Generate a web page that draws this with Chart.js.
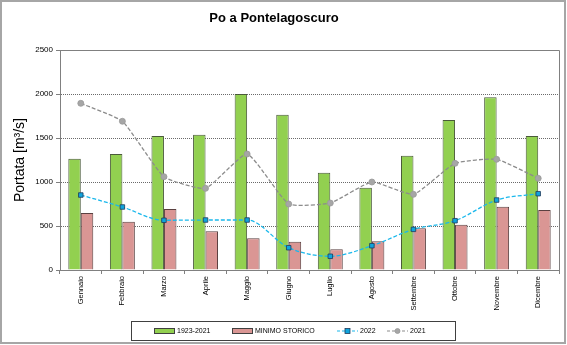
<!DOCTYPE html>
<html><head><meta charset="utf-8">
<script src="https://cdn.jsdelivr.net/npm/chart.js@4.4.0/dist/chart.umd.min.js"></script>
<style>html,body{margin:0;padding:0;background:#fff}#wrap{width:567px;height:345px;position:relative}</style>
</head><body><div id="wrap"><canvas id="c" width="567" height="345"></canvas></div>
<script>
const months = ['Gennaio','Febbraio','Marzo','Aprile','Maggio','Giugno','Luglio','Agosto','Settembre','Ottobre','Novembre','Dicembre'];
const media = [1265,1318,1523,1538,2000,1765,1106,935,1299,1705,1962,1523];
const minimo = [648,549,693,440,360,322,235,326,474,515,720,682];
const y2022 = [852,716,565,568,568,253,156,276,462,560,795,867];
const y2021 = [1894,1690,1060,928,1318,750,761,1000,860,1212,1258,1042];
const seriesNames = ['1923-2021','MINIMO STORICO','2022','2021'];
const chartTitle = 'Po a Pontelagoscuro';
const yTitle = 'Portata [m³/s]';
const yMin = 0, yMax = 2500, yStep = 500;

const FONT = "'Liberation Sans', Arial, sans-serif";

const framePlugin = {
  id: 'frame',
  beforeDatasetsDraw(chart) {
    const {ctx, chartArea: a} = chart;
    ctx.save();
    ctx.strokeStyle = '#808080';
    ctx.lineWidth = 1;
    ctx.beginPath();
    ctx.moveTo(a.left, Math.round(a.top) + 0.5);
    ctx.lineTo(Math.round(a.right) + 0.5, Math.round(a.top) + 0.5);
    ctx.lineTo(Math.round(a.right) + 0.5, a.bottom);
    ctx.stroke();
    ctx.restore();
  },
  afterDraw(chart) {
    const {ctx} = chart;
    ctx.save();
    ctx.strokeStyle = '#a6a6a6';
    ctx.lineWidth = 2;
    ctx.strokeRect(1, 1, 564, 342);
    ctx.fillStyle = '#000';
    ctx.font = 'bold 13px ' + FONT;
    ctx.textAlign = 'center';
    ctx.textBaseline = 'middle';
    ctx.fillText(chartTitle, 274, 18);
    const bx = 131, by = 321, bw = 324, bh = 19;
    ctx.lineWidth = 1;
    ctx.strokeStyle = '#404040';
    ctx.strokeRect(bx + 0.5, by + 0.5, bw, bh);
    const cy = by + bh / 2 + 0.5;
    const offs = [23, 101, 206, 256];
    ctx.font = '7px ' + FONT;
    ctx.textAlign = 'left';
    ctx.textBaseline = 'middle';
    chart.data.datasets.forEach((ds, i) => {
      const x = bx + offs[i];
      if (ds.type === 'bar') {
        ctx.fillStyle = ds.backgroundColor;
        ctx.fillRect(x, cy - 3, 20, 5);
        ctx.strokeStyle = '#404040';
        ctx.lineWidth = 1;
        ctx.strokeRect(x + 0.5, cy - 2.5, 20, 5);
        ctx.fillStyle = '#000';
        ctx.fillText(ds.label, x + 23, cy);
      } else {
        ctx.strokeStyle = ds.borderColor;
        ctx.lineWidth = 1.2;
        ctx.setLineDash([3, 2]);
        ctx.beginPath();
        ctx.moveTo(x, cy); ctx.lineTo(x + 21, cy);
        ctx.stroke();
        ctx.setLineDash([]);
        ctx.fillStyle = ds.pointBackgroundColor;
        ctx.strokeStyle = ds.pointBorderColor;
        ctx.lineWidth = 0.8;
        if (ds.pointStyle === 'rect') {
          ctx.fillRect(x + 8, cy - 2.5, 5, 5);
          ctx.strokeRect(x + 8, cy - 2.5, 5, 5);
        } else {
          ctx.beginPath(); ctx.arc(x + 10.5, cy, 2.5, 0, Math.PI * 2); ctx.fill(); ctx.stroke();
        }
        ctx.fillStyle = '#000';
        ctx.fillText(ds.label, x + 23, cy);
      }
    });
    ctx.restore();
  }
};

new Chart(document.getElementById('c'), {
  data: {
    labels: months,
    datasets: [
      { type: 'bar', label: seriesNames[0], data: media, backgroundColor: '#92D050', borderColor: '#4a5a3a', borderWidth: 1, order: 2 },
      { type: 'bar', label: seriesNames[1], data: minimo, backgroundColor: '#DA9694', borderColor: '#5a4040', borderWidth: 1, order: 2 },
      { type: 'line', label: seriesNames[2], data: y2022, borderColor: '#1AB8EC', borderWidth: 1.3, borderDash: [4, 2],
        pointStyle: 'rect', pointRadius: 3.2, pointBackgroundColor: '#0FA4DD', pointBorderColor: '#1F3A5A', pointBorderWidth: 0.8,
        cubicInterpolationMode: 'monotone', fill: false, order: 1 },
      { type: 'line', label: seriesNames[3], data: y2021, borderColor: '#8C8C8C', borderWidth: 1.3, borderDash: [4, 2],
        pointStyle: 'circle', pointRadius: 3, pointBackgroundColor: '#A6A6A6', pointBorderColor: '#999999', pointBorderWidth: 0.8,
        tension: 0.15, fill: false, order: 1 }
    ]
  },
  options: {
    responsive: false,
    animation: false,
    devicePixelRatio: 1,
    layout: { padding: { left: 0, right: 8, top: 50, bottom: 30 } },
    plugins: { legend: { display: false }, title: { display: false }, tooltip: { enabled: false } },
    datasets: { bar: { categoryPercentage: 0.6, barPercentage: 1 } },
    scales: {
      x: {
        grid: { offset: true, drawOnChartArea: false, tickLength: 4, tickColor: '#808080' },
        border: { color: '#808080', width: 1 },
        ticks: { minRotation: 90, maxRotation: 90, color: '#000', font: { family: FONT, size: 7.5 }, padding: 2, autoSkip: false },
        afterFit(s) { s.height = 45; }
      },
      y: {
        min: yMin, max: yMax,
        ticks: { stepSize: yStep, color: '#000', font: { family: FONT, size: 8 }, padding: 3, callback: v => String(v) },
        grid: {
          color: c => (c.tick && (c.tick.value === yMin || c.tick.value === yMax)) ? 'rgba(0,0,0,0)' : '#6a6a6a',
          lineWidth: 1, tickLength: 4, tickColor: '#808080', tickBorderDash: []
        },
        border: { color: '#808080', width: 1, dash: [1, 1] },
        title: { display: true, text: yTitle, color: '#000', font: { family: FONT, size: 14 }, padding: { top: 12, bottom: 0 } },
        afterFit(s) { s.width = 60; }
      }
    }
  },
  plugins: [framePlugin]
});
</script>
</body></html>
